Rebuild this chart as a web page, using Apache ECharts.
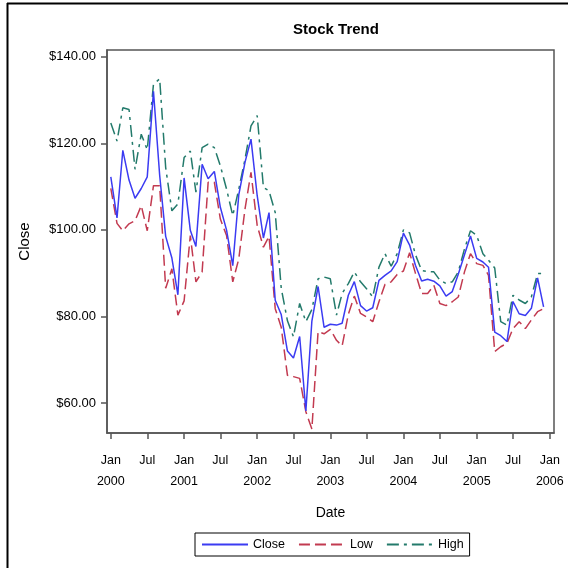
<!DOCTYPE html>
<html>
<head>
<meta charset="utf-8">
<script src="https://cdn.jsdelivr.net/npm/echarts@6/dist/echarts.min.js"></script>
<style>
html,body{margin:0;padding:0;background:#fff;}
#chart{width:568px;height:568px;}
</style>
</head>
<body>
<div id="chart"></div>
<script>
// ---- data ----
const dates = [
 '2000-01','2000-02','2000-03','2000-04','2000-05','2000-06','2000-07','2000-08','2000-09','2000-10','2000-11','2000-12',
 '2001-01','2001-02','2001-03','2001-04','2001-05','2001-06','2001-07','2001-08','2001-09','2001-10','2001-11','2001-12',
 '2002-01','2002-02','2002-03','2002-04','2002-05','2002-06','2002-07','2002-08','2002-09','2002-10','2002-11','2002-12',
 '2003-01','2003-02','2003-03','2003-04','2003-05','2003-06','2003-07','2003-08','2003-09','2003-10','2003-11','2003-12',
 '2004-01','2004-02','2004-03','2004-04','2004-05','2004-06','2004-07','2004-08','2004-09','2004-10','2004-11','2004-12',
 '2005-01','2005-02','2005-03','2005-04','2005-05','2005-06','2005-07','2005-08','2005-09','2005-10','2005-11','2005-12'
];
const closeVals = [
 112.25,102.75,118.38,111.50,107.31,109.56,112.25,132.02,112.63,98.50,93.50,85.00,
 112.00,99.90,96.18,115.14,111.80,113.50,105.21,99.95,91.72,108.07,115.59,120.96,
 107.89,98.12,104.00,83.76,80.45,72.00,70.40,75.38,58.15,78.94,86.92,77.50,
 78.20,78.00,78.43,84.90,88.04,82.50,81.25,82.01,88.33,89.48,90.54,92.68,
 99.23,96.50,91.84,88.17,88.59,88.15,87.07,84.69,85.74,89.75,94.24,98.58,
 93.42,92.58,91.38,76.38,75.55,74.20,83.46,80.62,80.22,81.88,88.90,82.20
];
const lowVals = [
 109.6,101.5,99.8,101.4,102.1,105.6,99.8,110.2,110.2,86.5,91.0,80.3,
 83.6,98.7,88.0,90.3,111.0,111.0,102.5,98.7,88.0,93.3,104.8,113.3,
 101.0,96.0,98.5,81.8,77.5,66.4,66.1,65.7,58.0,54.0,76.5,76.0,
 77.0,74.5,73.2,80.5,84.7,80.7,79.9,78.8,83.4,87.4,88.0,89.7,
 90.5,94.7,90.0,85.3,85.3,87.2,83.0,82.5,83.4,84.5,90.3,94.5,
 92.2,91.8,89.5,71.9,73.0,73.8,77.2,78.8,77.2,79.2,81.1,81.8
];
const highVals = [
 124.7,120.5,128.2,127.8,114.0,122.1,118.5,133.6,134.9,114.4,104.4,106.0,
 116.7,118.2,108.7,119.0,119.8,119.0,114.8,109.4,103.3,109.4,116.3,124.0,
 126.4,109.8,109.0,104.0,86.5,79.0,75.3,83.0,78.8,81.6,88.7,89.1,
 88.7,80.3,85.3,87.6,90.3,88.0,86.4,84.5,91.4,94.5,91.6,94.5,
 100.0,99.3,94.3,90.6,90.4,90.3,88.4,87.6,88.0,90.3,95.6,99.8,
 98.7,94.5,93.0,91.2,78.8,78.0,84.9,83.8,83.0,84.5,89.9,89.9
];
const xTickDates = ['2000-01','2000-07','2001-01','2001-07','2002-01','2002-07','2003-01','2003-07','2004-01','2004-07','2005-01','2005-07','2006-01'];
const yTicks = [60,80,100,120,140];
const seriesNames = ['Close','Low','High'];

function ts(s){ const p = s.split('-').map(Number); return Date.UTC(p[0], p[1]-1, 1); }
const xTickTs = xTickDates.map(ts);
const monthNames = ['Jan','Feb','Mar','Apr','May','Jun','Jul','Aug','Sep','Oct','Nov','Dec'];

const FONT = "'Liberation Sans', Arial, sans-serif";
const chart = echarts.init(document.getElementById('chart'), null, {renderer:'canvas'});
chart.setOption({
  animation:false,
  backgroundColor:'#fff',
  title:{
    text:'Stock Trend', left:331, top:17, textAlign:'center',
    textStyle:{fontFamily:"'Liberation Sans Narrow', 'Liberation Sans', Arial, sans-serif", fontWeight:'bold', fontSize:15, color:'#000'}
  },
  graphic:[
    {type:'line', shape:{x1:7.5,y1:3,x2:7.5,y2:568}, style:{stroke:'#000', lineWidth:2}},
    {type:'line', shape:{x1:7,y1:3.5,x2:568,y2:3.5}, style:{stroke:'#000', lineWidth:2}}
  ],
  grid:{left:107, right:14, top:50, bottom:135, show:true, borderColor:'#555', borderWidth:1.5, backgroundColor:'transparent'},
  legend:{
    left:195, top:533, width:272,
    padding:[5,6,5,6], itemGap:13, itemWidth:46, itemHeight:14,
    borderColor:'#000', borderWidth:1,
    itemStyle:{opacity:0},
    textStyle:{fontFamily:FONT, fontSize:12.5, color:'#000'},
    data:seriesNames
  },
  xAxis:{
    type:'value',
    min:Date.UTC(1999,11,13),
    max:Date.UTC(2006,0,22),
    name:'Date', nameLocation:'middle', nameGap:73,
    nameTextStyle:{fontFamily:FONT, fontSize:14, color:'#000'},
    axisLine:{show:true, lineStyle:{color:'#555', width:1.5}},
    axisTick:{show:true, length:6, lineStyle:{color:'#555', width:1.5}, customValues:xTickTs},
    splitLine:{show:false},
    axisLabel:{
      customValues:xTickTs, margin:17, lineHeight:21,
      fontFamily:FONT, fontSize:12.5, color:'#000', hideOverlap:false,
      formatter:function(v){ const d=new Date(v); const m=d.getUTCMonth(); return m===0 ? monthNames[m]+'\n'+d.getUTCFullYear() : monthNames[m]; }
    }
  },
  yAxis:{
    type:'value', min:53.08, max:141.55,
    name:'Close', nameLocation:'middle', nameGap:75, nameRotate:90,
    nameTextStyle:{fontFamily:FONT, fontSize:15, color:'#000'},
    axisLine:{show:true, lineStyle:{color:'#555', width:1.5}},
    axisTick:{show:true, length:6, lineStyle:{color:'#555', width:1.5}, customValues:yTicks},
    splitLine:{show:false},
    axisLabel:{customValues:yTicks, margin:11, fontFamily:FONT, fontSize:13, color:'#000',
      formatter:function(v){ return '$'+Number(v).toFixed(2); }}
  },
  series:[
    {name:seriesNames[0], type:'line', symbol:'none', showSymbol:false,
     data:dates.map(function(d,i){return [ts(d), closeVals[i]];}),
     lineStyle:{color:'#3b3bf2', width:1.5, type:'solid'}, itemStyle:{color:'#3b3bf2'}, z:3},
    {name:seriesNames[1], type:'line', symbol:'none', showSymbol:false,
     data:dates.map(function(d,i){return [ts(d), lowVals[i]];}),
     lineStyle:{color:'#c23a50', width:1.5, type:[11,5]}, itemStyle:{color:'#c23a50'}, z:2},
    {name:seriesNames[2], type:'line', symbol:'none', showSymbol:false,
     data:dates.map(function(d,i){return [ts(d), highVals[i]];}),
     lineStyle:{color:'#237a6b', width:1.5, type:[12,5,3,5]}, itemStyle:{color:'#237a6b'}, z:2}
  ]
});
</script>
</body>
</html>
